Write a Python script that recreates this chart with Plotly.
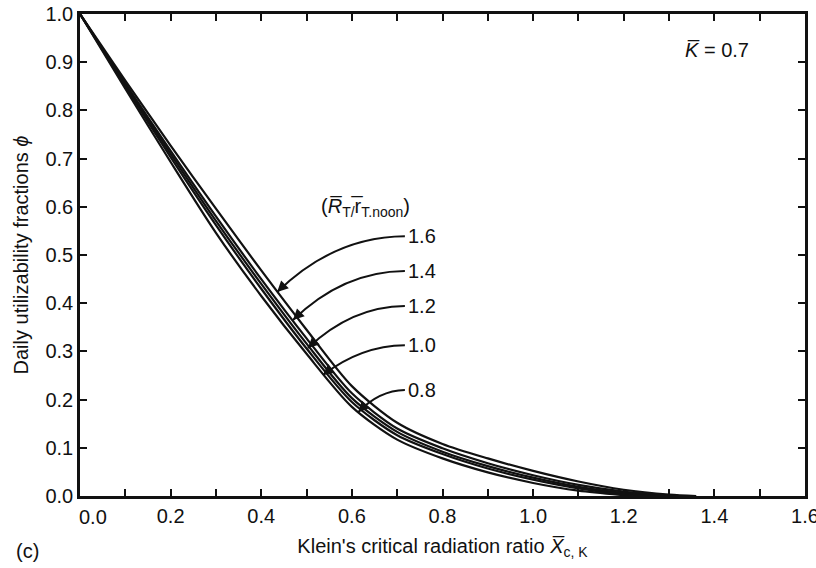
import plotly.graph_objects as go

# ---- data ----
ratios = ["1.6", "1.4", "1.2", "1.0", "0.8"]

x_16 = [0, 0.1, 0.2, 0.3, 0.4, 0.5, 0.6, 0.7, 0.8, 0.9, 1.0, 1.1, 1.2, 1.3, 1.36]
y_16 = [1.0, 0.862, 0.727, 0.596, 0.468, 0.345, 0.228, 0.152, 0.108, 0.078, 0.052, 0.030, 0.013, 0.003, 0.0]

x_14 = [0, 0.1, 0.2, 0.3, 0.4, 0.5, 0.6, 0.7, 0.8, 0.9, 1.0, 1.1, 1.2, 1.31]
y_14 = [1.0, 0.856, 0.716, 0.580, 0.450, 0.327, 0.213, 0.140, 0.099, 0.068, 0.043, 0.023, 0.009, 0.0]

x_12 = [0, 0.1, 0.2, 0.3, 0.4, 0.5, 0.6, 0.7, 0.8, 0.9, 1.0, 1.1, 1.2, 1.28]
y_12 = [1.0, 0.853, 0.710, 0.571, 0.440, 0.316, 0.203, 0.133, 0.092, 0.062, 0.038, 0.019, 0.006, 0.0]

x_10 = [0, 0.1, 0.2, 0.3, 0.4, 0.5, 0.6, 0.7, 0.8, 0.9, 1.0, 1.1, 1.2, 1.26]
y_10 = [1.0, 0.850, 0.703, 0.562, 0.430, 0.306, 0.195, 0.126, 0.087, 0.057, 0.034, 0.016, 0.004, 0.0]

x_08 = [0, 0.1, 0.2, 0.3, 0.4, 0.5, 0.6, 0.7, 0.8, 0.9, 1.0, 1.1, 1.22]
y_08 = [1.0, 0.845, 0.693, 0.546, 0.415, 0.295, 0.185, 0.117, 0.078, 0.049, 0.027, 0.011, 0.0]

xs = [x_16, x_14, x_12, x_10, x_08]
ys = [y_16, y_14, y_12, y_10, y_08]

x_tickvals = [0, 0.1, 0.2, 0.3, 0.4, 0.5, 0.6, 0.7, 0.8, 0.9, 1.0, 1.1, 1.2, 1.3, 1.4, 1.5, 1.6]
x_ticktext = ["", "", "0.2", "", "0.4", "", "0.6", "", "0.8", "", "1.0", "", "1.2", "", "1.4", "", "1.6"]
y_tickvals = [0, 0.1, 0.2, 0.3, 0.4, 0.5, 0.6, 0.7, 0.8, 0.9, 1.0]
y_ticktext = ["0.0", "0.1", "0.2", "0.3", "0.4", "0.5", "0.6", "0.7", "0.8", "0.9", "1.0"]

# arrow geometry (label start, bezier control, tip) in data units
arrow_start = [(0.717, 0.539), (0.717, 0.467), (0.717, 0.394), (0.717, 0.313), (0.717, 0.220)]
arrow_ctrl = [(0.56, 0.538), (0.58, 0.466), (0.60, 0.393), (0.62, 0.312), (0.66, 0.219)]
arrow_tip = [(0.435, 0.423), (0.470, 0.365), (0.503, 0.307), (0.536, 0.251), (0.614, 0.174)]

FONT = "Liberation Sans, Arial, sans-serif"
FS = 20

fig = go.Figure()
for xv, yv in zip(xs, ys):
    fig.add_trace(go.Scatter(x=xv, y=yv, mode="lines",
                             line=dict(color="#111111", width=2.2, shape="spline", smoothing=0.8),
                             showlegend=False, hoverinfo="skip"))

shapes = []
annotations = []
for lab, s, c, t in zip(ratios, arrow_start, arrow_ctrl, arrow_tip):
    shapes.append(dict(type="path", xref="x", yref="y",
                       path=f"M {s[0]},{s[1]} Q {c[0]},{c[1]} {t[0]},{t[1]}",
                       line=dict(color="#111111", width=2)))
    dx = t[0] - c[0]
    dy = t[1] - c[1]
    px, py = dx * 453.0, -dy * 482.0
    n = (px ** 2 + py ** 2) ** 0.5
    annotations.append(dict(x=t[0], y=t[1], xref="x", yref="y", text="",
                            showarrow=True, arrowhead=2, arrowsize=1.1, arrowwidth=2,
                            arrowcolor="#111111", ax=-px / n * 10, ay=-py / n * 10))
    annotations.append(dict(x=s[0], y=s[1], xref="x", yref="y", text=lab,
                            showarrow=False, xanchor="left", yanchor="middle", xshift=1,
                            font=dict(size=FS, color="#111111", family=FONT)))

annotations.append(dict(x=0.631, y=0.598, xref="x", yref="y",
                        text="(<i>R\u0305</i><sub>T/</sub>r\u0305<sub>T.noon</sub>)",
                        showarrow=False, font=dict(size=FS, color="#111111", family=FONT)))
annotations.append(dict(x=1.406, y=0.925, xref="x", yref="y",
                        text="<i>K\u0305</i> = 0.7",
                        showarrow=False, font=dict(size=FS, color="#111111", family=FONT)))
annotations.append(dict(x=0.029, y=0, xref="x", yref="paper", text="0.0",
                        showarrow=False, yanchor="top", yshift=-8,
                        font=dict(size=FS, color="#111111", family=FONT)))
annotations.append(dict(x=-0.091, y=-0.114, xref="paper", yref="paper",
                        text="(c)", showarrow=False, xanchor="left", yanchor="middle",
                        font=dict(size=FS, color="#111111", family=FONT)))

fig.update_layout(
    width=816, height=568,
    margin=dict(l=80, r=11, t=14, b=72),
    paper_bgcolor="white", plot_bgcolor="white",
    font=dict(family=FONT, size=FS, color="#111111"),
    shapes=shapes, annotations=annotations,
    xaxis=dict(range=[0, 1.6], tickmode="array", tickvals=x_tickvals, ticktext=x_ticktext,
               ticks="inside", ticklen=7, tickwidth=2, tickcolor="#111111",
               showline=True, linewidth=2.5, linecolor="#111111", mirror="ticks",
               showgrid=False, zeroline=False, automargin=False, ticklabeloverflow="allow",
               title=dict(text="Klein's critical radiation ratio <i>X\u0305</i><sub>c, K</sub>",
                          standoff=14, font=dict(size=FS))),
    yaxis=dict(range=[0, 1.0], tickmode="array", tickvals=y_tickvals, ticktext=y_ticktext,
               ticks="inside", ticklen=7, tickwidth=2, tickcolor="#111111",
               showline=True, linewidth=2.5, linecolor="#111111", mirror="ticks",
               showgrid=False, zeroline=False, automargin=False,
               title=dict(text="Daily utilizability fractions <i>\u03d5</i>",
                          standoff=12, font=dict(size=FS))),
)

fig.write_html("out.html", config={"displayModeBar": False},
               post_script="document.body.style.margin='0';document.body.style.overflow='hidden';")
